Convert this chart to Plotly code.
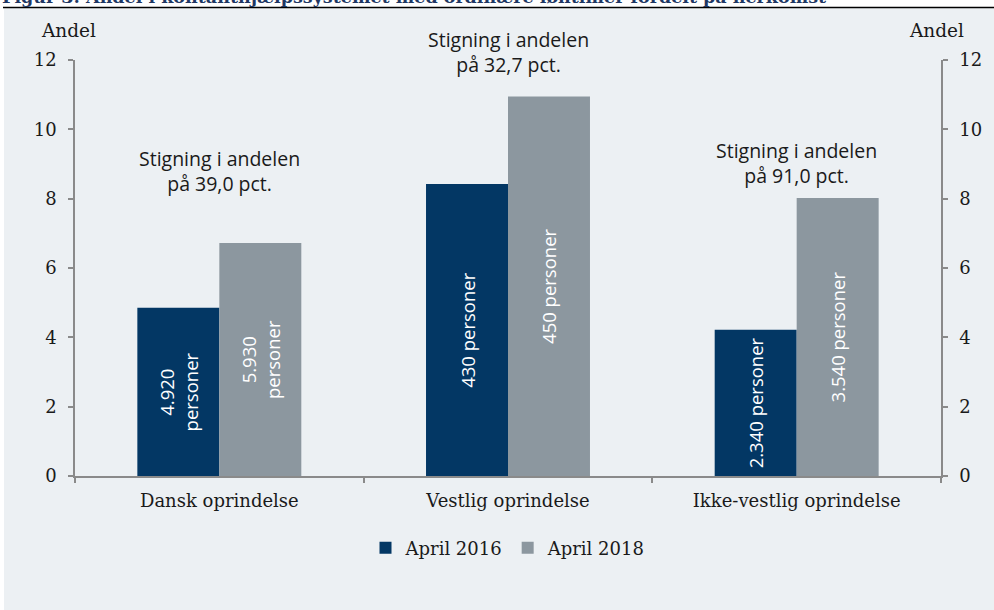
import plotly.graph_objects as go

categories = ["Dansk oprindelse", "Vestlig oprindelse", "Ikke-vestlig oprindelse"]
v2016 = [4.85, 8.42, 4.22]
v2018 = [6.72, 10.95, 8.02]
labels2016 = ["4.920<br>personer", "430 personer", "2.340 personer"]
labels2018 = ["5.930<br>personer", "450 personer", "3.540 personer"]
increase = ["39,0", "32,7", "91,0"]
series_names = ["April 2016", "April 2018"]
yticks = [0, 2, 4, 6, 8, 10, 12]

DARK = "#033764"
GRAY = "#8C979F"
BG = "#ECF0F3"
AX = "#8A8A8A"
TXT = "#1A1A1A"
SERIF = "DejaVu Serif"
SANS = "Open Sans"

W, H = 994, 610
ML, MR, MT, MB = 75, 53, 60, 134
PW, PH = W - ML - MR, H - MT - MB


def px(xp):
    return (xp - ML) / PW


def py(yp):
    return (H - MB - yp) / PH


fig = go.Figure()
fig.add_trace(go.Bar(
    x=categories, y=v2016, name=series_names[0], marker_color=DARK,
    marker_line_width=0,
    text=labels2016, textposition="inside", insidetextanchor="middle",
    textangle=-90, texttemplate="%{text}",
    insidetextfont=dict(family=SANS, size=18.5, color="white"),
    hoverinfo="skip"))
fig.add_trace(go.Bar(
    x=categories, y=v2018, name=series_names[1], marker_color=GRAY,
    marker_line_width=0,
    text=labels2018, textposition="inside", insidetextanchor="middle",
    textangle=-90, texttemplate="%{text}",
    insidetextfont=dict(family=SANS, size=18.5, color="white"),
    hoverinfo="skip"))
# invisible helper so the right-hand axis is drawn with its labels
fig.add_trace(go.Scatter(
    x=categories, y=v2018, yaxis="y2", mode="markers",
    marker=dict(opacity=0), showlegend=False, hoverinfo="skip"))

shifts = [44, 16, 7]
annotations = []
for cat, top, inc, sh in zip(categories, v2018, increase, shifts):
    annotations.append(dict(
        x=cat, y=top, xref="x", yref="y", yanchor="bottom", xanchor="center",
        yshift=sh, showarrow=False,
        text=f"Stigning i andelen<br>på {inc} pct.",
        font=dict(family=SANS, size=19.5, color=TXT)))

annotations += [
    dict(x=px(68), y=py(30), xref="paper", yref="paper", xanchor="center",
         yanchor="middle", text="Andel", showarrow=False,
         font=dict(family=SERIF, size=18.5, color=TXT)),
    dict(x=px(936), y=py(30), xref="paper", yref="paper", xanchor="center",
         yanchor="middle", text="Andel", showarrow=False,
         font=dict(family=SERIF, size=18.5, color=TXT)),
    dict(x=px(0), y=py(9), xref="paper", yref="paper", xanchor="left",
         yanchor="bottom", showarrow=False,
         text="<b>Figur 3: Andel i kontanthjælpssystemet med ordinære løntimer fordelt på herkomst</b>",
         font=dict(family=SERIF, size=17.5, color="#1F3864")),
]

shapes = [
    dict(type="rect", xref="paper", yref="paper", x0=px(-5), x1=px(4),
         y0=py(H + 5), y1=py(-5), fillcolor="white", line_width=0, layer="below"),
    dict(type="rect", xref="paper", yref="paper", x0=px(-5), x1=px(W + 5),
         y0=py(7.5), y1=py(-5), fillcolor="white", line_width=0, layer="below"),
    dict(type="line", xref="paper", yref="paper", x0=px(3), x1=px(W + 5),
         y0=py(7.5), y1=py(7.5), line=dict(color="black", width=1.5)),
]

axis_common = dict(
    range=[0, 12], tickvals=yticks, showline=True, linecolor=AX, linewidth=1.5,
    ticks="outside", ticklen=5, tickcolor=AX, tickwidth=1.5, showgrid=False,
    zeroline=False, tickfont=dict(family=SERIF, size=18, color=TXT),
    ticklabelstandoff=8, fixedrange=True, automargin=False)

fig.update_layout(
    width=W, height=H,
    margin=dict(l=ML, r=MR, t=MT, b=MB, pad=0, autoexpand=False),
    paper_bgcolor=BG, plot_bgcolor="rgba(0,0,0,0)",
    barmode="group", bargap=0.432, bargroupgap=0,
    showlegend=True,
    legend=dict(orientation="h", x=0.5, xanchor="center", y=py(548),
                yanchor="middle", font=dict(family=SERIF, size=18, color=TXT),
                bgcolor="rgba(0,0,0,0)", itemwidth=30, traceorder="normal"),
    xaxis=dict(showline=True, linecolor=AX, linewidth=1.5, ticks="outside",
               ticklen=5, tickcolor=AX, tickwidth=1.5, tickson="boundaries",
               showgrid=False, tickfont=dict(family=SERIF, size=18, color=TXT),
               ticklabelstandoff=8, fixedrange=True, automargin=False),
    yaxis=dict(side="left", **axis_common),
    yaxis2=dict(side="right", overlaying="y", anchor="x", **axis_common),
    annotations=annotations,
    shapes=shapes,
)

fig.write_html(
    "out.html",
    config={"displayModeBar": False},
    post_script="document.body.style.margin='0';document.body.style.overflow='hidden';",
)
